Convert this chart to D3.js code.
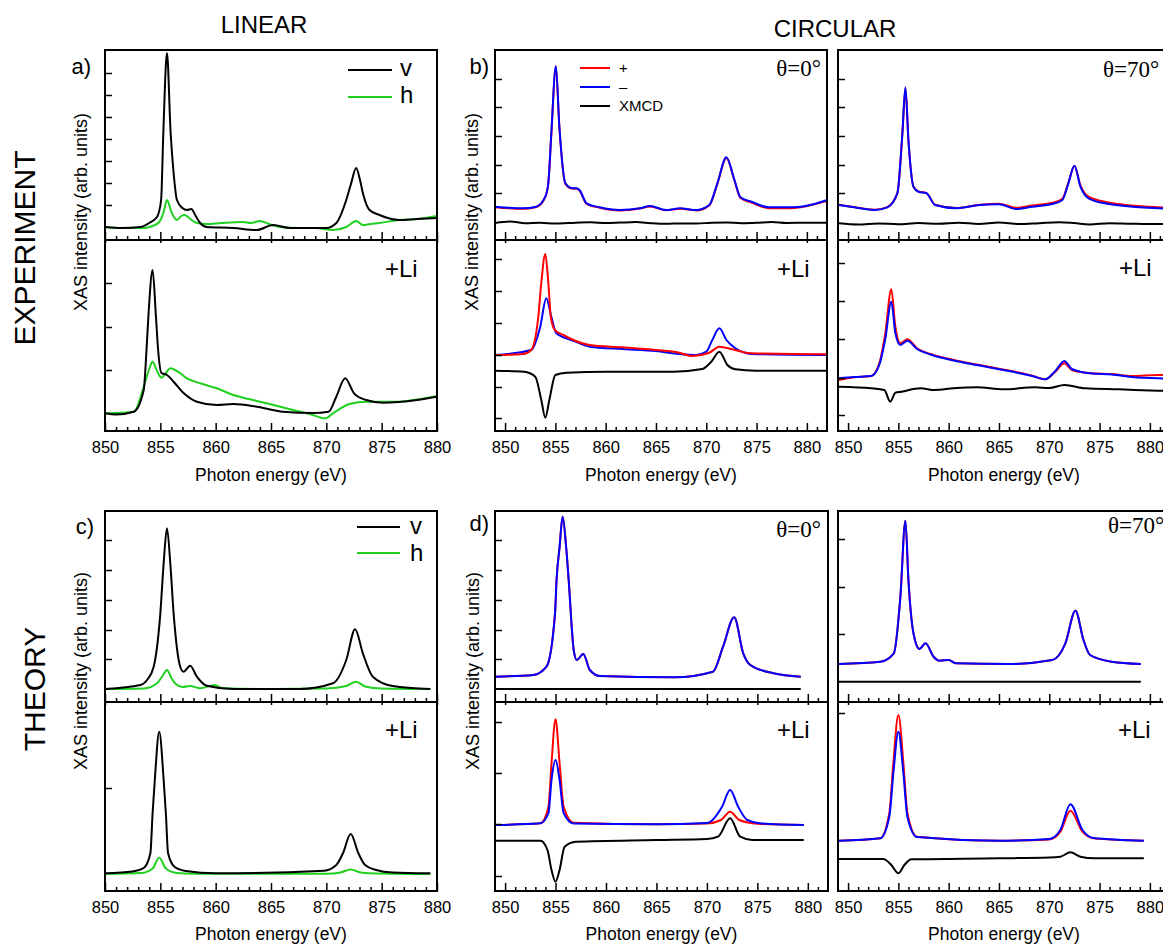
<!DOCTYPE html>
<html><head><meta charset="utf-8">
<script src="https://cdn.jsdelivr.net/npm/d3@7"></script>
<style>
body{margin:0;background:#fff}
svg{display:block}
text{font-family:"Liberation Sans",Arial,sans-serif;fill:#000}
</style>
</head><body>
<svg id="chart" width="1163" height="944"></svg>
<script>
// ---------------- DATA (photon energy eV, intensity arb. units) ----------------
const xDomainLinear = [850, 880];
const xDomainCircular = [849, 882];
const majorTicks = [850, 855, 860, 865, 870, 875, 880];

// EXPERIMENT – linear (panel a)
const expA_v = [[850,13],[851.5,12],[853.2,13],[854.0,17],[854.7,23],[855.07,40],[855.27,107],[855.6,187],[855.93,107],[856.2,67],[856.5,40],[857.0,32],[857.4,30],[857.8,31],[858.2,24],[858.6,17],[859.2,13],[861.6,12],[863.7,10],[865.2,15],[866.7,12],[870.0,12],[870.9,17],[871.8,40],[872.2,55],[872.7,72],[873.0,62],[873.3,47],[873.9,30],[874.8,25],[876.6,20],[878.2,21],[880,22]];
const expA_h = [[850,13],[851.5,12],[853.5,12],[854.3,14],[854.9,18],[855.3,28],[855.6,40],[856.0,28],[856.5,20],[856.9,24],[857.2,25],[857.7,21],[858.3,17],[859.2,16],[860.5,17],[862.4,18],[863.2,17],[864.0,19],[864.8,16],[865.8,13],[867.6,12],[869.0,12],[870.6,10],[871.8,13],[872.7,19],[873.3,15],[874.0,16],[874.8,17],[876.6,20],[878.2,21],[880,24]];
const expALi_v = [[850,17.7],[851,16.5],[852.6,19.3],[853.5,41],[853.75,81],[853.95,120],[854.3,161],[854.6,115],[854.8,81],[855.1,58],[855.6,56],[856.2,49.3],[857.1,38],[858.3,29.3],[860.1,26],[861.6,27],[863.7,24.3],[866.1,19.3],[868.8,18],[870.2,19.3],[870.9,34.3],[871.7,52.7],[872.5,37.7],[873.6,31],[875.1,28.3],[878.2,31],[880,34.3]];
const expALi_h = [[850,17.7],[852.6,19.3],[853.5,44.3],[854.0,62],[854.3,69.3],[854.7,60],[855.1,53.3],[855.5,58],[855.9,62.7],[856.5,60],[857.4,52.7],[858.6,47.7],[860.1,42.7],[861.6,36],[863.0,32],[864.6,27.7],[867,21],[868.5,17],[869.9,12.7],[870.6,17.7],[872.1,27],[873.6,29.3],[876.6,29.3],[878.5,32],[880,35]];

// EXPERIMENT – circular, theta = 0 (panel b)
const expB_minus = [[849,33.3],[851.8,31.7],[853.1,33.3],[854.0,43.3],[854.3,57],[854.6,107],[855.05,174],[855.4,113],[856.0,56.7],[856.6,52],[857.1,51.7],[857.4,50],[858.1,36.7],[859.4,32.7],[861.4,30],[863.4,31.7],[864.4,34],[866,30],[867.4,31.7],[869,30],[870.3,35],[871.1,56.7],[872.0,82.7],[872.8,60],[873.4,42.7],[874.5,38.3],[876.2,32.7],[878.5,32.7],[881.8,39.3],[882,40]];
const expB_plus = [[849,32.8],[851.8,31.2],[853.1,33],[854.0,43],[854.3,56.5],[854.6,106],[855.05,173],[855.4,112.5],[856.0,56],[856.6,51.5],[857.1,51.2],[857.4,49.5],[858.1,36.2],[859.4,32.2],[861.4,29.5],[863.4,31.4],[864.4,33.6],[866,29.7],[867.4,31.2],[869,29.6],[870.3,34.6],[871.1,56],[872.0,82],[872.8,59.5],[873.4,42],[874.5,37.5],[876.2,31.8],[878.5,31.8],[881.8,38.5],[882,39]];
const expB_xmcd = [[849,17],[850.5,18.5],[852,16.8],[853.5,17.2],[855,16.5],[857,17.3],[858.5,17.8],[860,16.9],[861.5,17.4],[863,17.9],[864.5,16.8],[866,16.2],[867.5,16.6],[869,16.4],[870.5,17.3],[872,17.6],[873.5,16.8],[875,17.2],[876.5,18.0],[878,17.0],[880,17.3],[882,17.2]];
const expBLi_plus = [[849,76],[851.8,77],[852.6,81],[853.3,114],[853.6,148],[854.0,177],[854.3,148],[854.55,114],[854.95,101],[855.8,96],[856.8,91],[858.4,86],[861.7,83.7],[865,81],[867.3,78.3],[868.6,75],[870.3,78.3],[871.3,84.3],[872.6,81.7],[874.5,77.7],[881.8,76.7],[882,77]];
const expBLi_minus = [[849,76],[852.6,81],[853.5,104.3],[854.1,132.7],[854.6,114.3],[855.1,97.7],[856.8,90.3],[858.4,84.3],[861.7,82],[865,80],[867.3,77],[869,76],[870.0,79.3],[870.6,91],[871.3,102.7],[872.0,91],[872.9,82.7],[874.5,77],[882,76]];
const expBLi_xmcd = [[849,60.3],[851.9,59.3],[853.0,54.3],[853.6,31],[854.0,13.3],[854.4,31],[855.0,56],[856.1,58.3],[860.1,59.3],[866.7,59.3],[869.6,62],[870.5,69.3],[871.3,79.3],[872.1,66],[872.9,61.7],[874.9,60.3],[882,60.3]];

// EXPERIMENT – circular, theta = 70
const expC_minus = [[849.1,35],[850.6,32.7],[852.6,30],[853.9,32.7],[854.9,46.7],[855.4,107],[855.7,152.7],[856.0,100],[856.5,53.3],[857.0,48.3],[857.8,46.7],[858.65,35],[860.8,31.7],[863.1,35],[865.0,35.7],[866.7,31],[868.3,33.3],[870.3,36],[871.3,40],[871.9,56.7],[872.5,74.3],[873.1,53.3],[873.9,41.7],[875.9,36],[880.8,31.7],[882,31]];
const expC_plus = [[849.1,35.3],[850.6,32.9],[852.6,30.2],[853.9,32.9],[854.9,46.8],[855.4,106],[855.7,151.5],[856.0,99.5],[856.5,53.5],[857.0,48.5],[857.8,46.9],[858.65,35.3],[860.8,31.9],[863.1,35.3],[865.0,36.3],[866.7,32.2],[868.3,34.5],[870.3,37.2],[871.3,41.3],[871.9,57.4],[872.5,74],[873.1,54.6],[873.9,43.3],[875.9,37.6],[880.8,32.8],[882,32.3]];
const expC_xmcd = [[849.1,16.7],[851,15.5],[853,16.5],[855,15.8],[857,16.9],[859,16.2],[861,17.2],[863,16.1],[865,17.4],[867,15.9],[869,16.8],[871,17.8],[872.5,16.9],[874,15.6],[876,16.8],[878,16.3],[880,15.9],[882,16]];
const expCLi_plus = [[849.1,51],[850.6,53.7],[852.3,55],[853.1,67.7],[853.7,97.7],[854.3,141.7],[854.7,104.3],[855.2,87.7],[855.9,91.7],[856.85,82.7],[858.2,77],[860.5,71],[863.1,66],[865.7,61],[868.3,55.3],[869.6,51.7],[870.6,59.3],[871.5,67.7],[872.25,61],[874.2,57.7],[876.2,57],[878.2,55],[880.8,56],[882,56]];
const expCLi_minus = [[849.1,52.7],[850.6,54],[852.3,55],[853.1,66],[853.7,92],[854.3,129.3],[854.7,98],[855.2,86],[855.9,90.3],[856.85,82],[858.2,76.5],[860.5,70.5],[863.1,65.5],[865.7,60.5],[868.3,55],[869.6,51.7],[870.6,60],[871.5,70],[872.25,62],[874.2,57.5],[876.2,56.5],[878.2,54],[880.8,52.7],[882,52.5]];
const expCLi_xmcd = [[849.1,44.3],[852.3,42.7],[853.6,41],[854.2,29.3],[854.7,38.3],[855.3,39.3],[857.2,42.7],[858.6,41],[860.5,42.7],[862.8,43.7],[865.4,41.7],[868.6,43.7],[870.0,43],[871.5,46],[873.6,42.7],[876.9,41.7],[880.8,40.3],[882,40]];

// THEORY – linear (panel c)
const thA_v = [[850,13],[853.2,17],[853.8,22],[854.4,35.3],[855.0,88.7],[855.3,138.7],[855.6,173.7],[855.9,138.7],[856.2,88.7],[856.8,35.3],[857.1,30.3],[857.7,36.3],[858.3,25.3],[859.2,16.3],[861.6,13],[867.6,13],[870.6,18.7],[871.8,42],[872.6,72.7],[873.3,48.7],[874.2,25.3],[876,16],[879.4,13]];
const thA_h = [[850,13],[853.5,13.5],[854.7,18.7],[855.2,26],[855.6,32],[856.0,24],[856.4,18],[857.0,15],[857.7,16],[858.6,13.7],[859.9,17],[860.6,13.7],[865,13],[870,13.5],[871.8,16],[872.7,20.3],[873.5,15.5],[875,13.5],[879.4,13]];
const thALi_v = [[850,17.7],[852.5,19.5],[853.5,23],[854.1,37.7],[854.3,77.7],[854.5,111],[854.9,159.3],[855.3,111],[855.5,77.7],[855.7,37.7],[856.3,24],[857.3,20],[860,17.7],[869.8,20.3],[870.9,26],[871.5,37.7],[872.2,57],[872.9,37.7],[873.5,26],[874.5,21],[876,18.5],[879.4,17.7]];
const thALi_h = [[850,17],[853.3,18],[854.3,22.5],[854.9,33.3],[855.5,22.5],[856.5,18],[858,17.3],[870,17.3],[871.3,18.6],[872.2,21.5],[873.1,18.6],[874.5,17.4],[879.4,17]];

// THEORY – circular, theta = 0 (panel d)
const thB_minus = [[849,25.3],[852.8,27],[854.1,35.3],[854.95,88.7],[855.1,122],[855.4,155],[855.7,185.3],[856.05,155],[856.3,122],[856.8,52],[857.1,42],[857.75,48],[858.4,32],[859.4,26],[866.8,24.7],[870.6,30.3],[871.6,55.3],[872.7,84.7],[873.6,48.7],[874.3,37],[876.6,28.7],[879.3,25.3]];
const thB_plus = thB_minus.map(d => [d[0], d[1]]);
const thB_xmcd = [[849,13],[855,13],[865,13],[872,13],[879.3,13]];
const thBLi_plus = [[849,66],[853.5,67.7],[854.3,84.3],[854.6,127.7],[855.0,171.7],[855.4,127.7],[855.8,84.3],[856.8,68.3],[865,66.7],[870,67.5],[871.4,71],[872.3,79.3],[873.2,71],[875,67.3],[879.6,66]];
const thBLi_minus = [[849,66],[853.5,67.7],[854.3,78],[854.6,111],[855.0,131],[855.4,111],[855.8,78],[856.8,67.5],[865,66.7],[870,68],[871.5,84.3],[872.3,101],[873.1,84.3],[874.0,71],[875.5,67.5],[879.6,66]];
const thBLi_xmcd = [[849,50.3],[853.5,50.3],[854.2,41],[854.6,21],[855.0,9.3],[855.4,21],[855.9,44.3],[857,49.3],[865,51],[870,52],[871.1,54.3],[872.3,72.7],[873.3,54.3],[874.5,51],[879.6,51]];

// THEORY – circular, theta = 70
const thC_minus = [[849.1,38],[853.2,40.3],[854.55,48.7],[855.2,105.3],[855.7,181.3],[856.0,122],[856.5,68.7],[857.1,53],[857.7,58.7],[858.5,45.3],[859.1,41.3],[860.0,42],[860.7,38.7],[866,38],[870.3,42],[871.6,58.7],[872.6,91.3],[873.4,62],[874.05,47],[876.2,40.3],[879.1,38]];
const thC_plus = thC_minus.map(d => [d[0], d[1]]);
const thC_xmcd = [[849.1,20.3],[855,20.3],[865,20.3],[872,20.3],[879.1,20.3]];
const thCLi_plus = [[849.1,50.3],[853.2,52.7],[854.1,77.7],[854.5,127.7],[855.0,176],[855.5,127.7],[855.9,77.7],[856.85,54.3],[865,50.3],[870,51.5],[871.1,59.3],[872.1,80.3],[873.3,59.3],[874.4,52.7],[879.4,50.3]];
const thCLi_minus = [[849.1,50.3],[853.2,52.7],[854.1,74.3],[854.5,117.7],[855.0,159.3],[855.5,117.7],[855.9,74.3],[856.85,54],[865,50.3],[870,52],[871.1,61],[872.1,86.7],[873.3,61],[874.4,53],[879.4,50.3]];
const thCLi_xmcd = [[849.1,32],[853.5,32],[854.3,26],[855.0,17.7],[855.6,26],[856.3,31.7],[865,32.7],[870,33.5],[871.1,34.3],[872.1,38.7],[873.1,34.3],[874.5,32.7],[879.4,32.7]];

// y tick values (arb. units) per sub-panel
const yt_expA = [35,57,79,101,123,145,167];
const yt_expALi = [61,104,148];
const yt_expB = [47,75,104,133,161];
const yt_expBLi = [13,44,76,108,140,172];
const yt_expC = [47,75,104,133,161];
const yt_expCLi = [16,53,92,130,168];
const yt_thA = [43,72,102,132,162];
const yt_thALi = [103];
const yt_thB = [43,72,102,132,162];
const yt_thBLi = [15,67,118,169];
const yt_thC = [68,115,163];
const yt_thCLi = [178];

// ---------------- DRAWING ----------------
const RED = "#ff0000", BLUE = "#0000ff", GREEN = "#1fd01f", BLACK = "#000000";
const svg = d3.select("#chart");
const defs = svg.append("defs");
let clipId = 0;

function subPanel(cfg) {
  const x = d3.scaleLinear().domain(cfg.xd).range([cfg.x0, cfg.x1]);
  const y = d3.scaleLinear().domain([0, cfg.yb - cfg.yt]).range([cfg.yb, cfg.yt]);
  const id = "clip" + (clipId++);
  defs.append("clipPath").attr("id", id).append("rect")
    .attr("x", cfg.x0).attr("y", cfg.yt).attr("width", cfg.x1 - cfg.x0).attr("height", cfg.yb - cfg.yt);
  const g = svg.append("g");
  const line = d3.line().x(d => x(d[0])).y(d => y(d[1])).curve(d3.curveMonotoneX);
  const lg = g.append("g").attr("clip-path", `url(#${id})`);
  cfg.series.forEach(s => {
    lg.append("path").datum(s.data).attr("d", line)
      .attr("fill", "none").attr("stroke", s.color).attr("stroke-width", 2)
      .attr("stroke-linejoin", "round");
  });
  // y ticks (inward)
  const ya = d3.axisRight(y).tickValues(cfg.yticks).tickSize(7).tickFormat("");
  const yg = g.append("g").attr("transform", `translate(${cfg.x0},0)`).call(ya);
  yg.select(".domain").remove();
  yg.selectAll("line").attr("stroke-width", 1.5);
  // x ticks (inward, at bottom of sub-panel)
  const lo = Math.ceil(cfg.xd[0] + 0.01), hi = Math.floor(cfg.xd[1] - 0.01);
  const minor = d3.range(lo, hi + 1).filter(v => !majorTicks.includes(v));
  const xa1 = d3.axisTop(x).tickValues(minor).tickSize(4).tickFormat("");
  const xa2 = d3.axisTop(x).tickValues(majorTicks).tickSize(8).tickFormat("");
  [xa1, xa2].forEach(a => {
    const xg = g.append("g").attr("transform", `translate(0,${cfg.yb})`).call(a);
    xg.select(".domain").remove();
    xg.selectAll("line").attr("stroke-width", 1.5);
  });
  return x;
}

function panel(cfg) {
  const xu = subPanel({x0: cfg.x0, x1: cfg.x1, xd: cfg.xd, yt: cfg.yt, yb: cfg.ym, series: cfg.upper, yticks: cfg.ytu});
  const xl = subPanel({x0: cfg.x0, x1: cfg.x1, xd: cfg.xd, yt: cfg.ym, yb: cfg.yb, series: cfg.lower, yticks: cfg.ytl});
  // frame + divider
  svg.append("rect").attr("x", cfg.x0).attr("y", cfg.yt).attr("width", cfg.x1 - cfg.x0).attr("height", cfg.yb - cfg.yt)
    .attr("fill", "none").attr("stroke", "#000").attr("stroke-width", 2);
  svg.append("line").attr("x1", cfg.x0).attr("x2", cfg.x1).attr("y1", cfg.ym).attr("y2", cfg.ym)
    .attr("stroke", "#000").attr("stroke-width", 2);
  // small downward tick stubs on divider
  const dv = d3.axisBottom(xu).tickValues(majorTicks).tickSize(3).tickFormat("");
  const dg = svg.append("g").attr("transform", `translate(0,${cfg.ym})`).call(dv);
  dg.select(".domain").remove();
  dg.selectAll("line").attr("stroke-width", 1.5);
  // tick labels
  const lab = d3.axisBottom(xl).tickValues(majorTicks).tickSize(0).tickPadding(0).tickFormat(d3.format("d"));
  const lg = svg.append("g").attr("transform", `translate(0,${cfg.yb})`).call(lab);
  lg.select(".domain").remove();
  lg.selectAll("text").attr("font-size", "16.5px").attr("dy", null).attr("y", cfg.tickBase - cfg.yb)
    .style("font-family", "'Liberation Sans', Arial, sans-serif").attr("fill", "#000");
  svg.append("text").attr("x", (cfg.x0 + cfg.x1) / 2).attr("y", cfg.titleBase).attr("text-anchor", "middle")
    .attr("font-size", "17.5px").text("Photon energy (eV)");
}

const S = (data, color) => ({data, color});

// Experiment row
panel({x0:105, x1:437, xd:xDomainLinear, yt:50, ym:240, yb:431, tickBase:453, titleBase:481,
  upper:[S(expA_h,GREEN), S(expA_v,BLACK)], lower:[S(expALi_h,GREEN), S(expALi_v,BLACK)], ytu:yt_expA, ytl:yt_expALi});
panel({x0:495, x1:827, xd:xDomainCircular, yt:50, ym:240, yb:431, tickBase:453, titleBase:481,
  upper:[S(expB_xmcd,BLACK), S(expB_plus,RED), S(expB_minus,BLUE)],
  lower:[S(expBLi_xmcd,BLACK), S(expBLi_minus,BLUE), S(expBLi_plus,RED)], ytu:yt_expB, ytl:yt_expBLi});
panel({x0:838, x1:1170, xd:xDomainCircular, yt:50, ym:240, yb:431, tickBase:453, titleBase:481,
  upper:[S(expC_xmcd,BLACK), S(expC_plus,RED), S(expC_minus,BLUE)],
  lower:[S(expCLi_xmcd,BLACK), S(expCLi_plus,RED), S(expCLi_minus,BLUE)], ytu:yt_expC, ytl:yt_expCLi});
// Theory row
panel({x0:105, x1:437, xd:xDomainLinear, yt:511, ym:702, yb:891, tickBase:913, titleBase:940,
  upper:[S(thA_h,GREEN), S(thA_v,BLACK)], lower:[S(thALi_h,GREEN), S(thALi_v,BLACK)], ytu:yt_thA, ytl:yt_thALi});
panel({x0:495, x1:828, xd:xDomainCircular, yt:511, ym:702, yb:891, tickBase:913, titleBase:940,
  upper:[S(thB_xmcd,BLACK), S(thB_plus,RED), S(thB_minus,BLUE)],
  lower:[S(thBLi_xmcd,BLACK), S(thBLi_plus,RED), S(thBLi_minus,BLUE)], ytu:yt_thB, ytl:yt_thBLi});
panel({x0:838, x1:1170, xd:xDomainCircular, yt:511, ym:702, yb:891, tickBase:913, titleBase:940,
  upper:[S(thC_xmcd,BLACK), S(thC_plus,RED), S(thC_minus,BLUE)],
  lower:[S(thCLi_xmcd,BLACK), S(thCLi_plus,RED), S(thCLi_minus,BLUE)], ytu:yt_thC, ytl:yt_thCLi});

// ---------------- TEXT ----------------
function txt(x, y, s, size, opts = {}) {
  const t = svg.append("text").attr("x", x).attr("y", y).attr("font-size", size + "px").text(s);
  if (opts.anchor) t.attr("text-anchor", opts.anchor);
  if (opts.serif) t.style("font-family", "'Liberation Serif','Times New Roman',serif");
  if (opts.rot) t.attr("transform", `rotate(-90,${x},${y})`);
  return t;
}
txt(264, 33, "LINEAR", 24, {anchor: "middle"});
txt(835, 37, "CIRCULAR", 24, {anchor: "middle"});
txt(35, 248, "EXPERIMENT", 30, {anchor: "middle", rot: true});
txt(45, 689, "THEORY", 30, {anchor: "middle", rot: true});
txt(87, 212, "XAS intensity (arb. units)", 18, {anchor: "middle", rot: true});
txt(478, 212, "XAS intensity (arb. units)", 18, {anchor: "middle", rot: true});
txt(87, 671, "XAS intensity (arb. units)", 18, {anchor: "middle", rot: true});
txt(479, 671, "XAS intensity (arb. units)", 18, {anchor: "middle", rot: true});
txt(91, 74, "a)", 22, {anchor: "end"});
txt(489, 74, "b)", 22, {anchor: "end"});
txt(94, 534, "c)", 22, {anchor: "end"});
txt(489, 531, "d)", 22, {anchor: "end"});
txt(821, 76, "θ=0°", 23, {anchor: "end", serif: true});
txt(1103, 77, "θ=70°", 23, {serif: true});
txt(821, 537, "θ=0°", 23, {anchor: "end", serif: true});
txt(1108, 533, "θ=70°", 23, {serif: true});
[[385,277],[777,277],[1119,276],[385,738],[777,738],[1118,738]].forEach(p => txt(p[0], p[1], "+Li", 24));

// legends
function legLine(x1, x2, y, c) {
  svg.append("line").attr("x1", x1).attr("x2", x2).attr("y1", y).attr("y2", y).attr("stroke", c).attr("stroke-width", 2);
}
legLine(348, 392, 70, BLACK); txt(400, 76, "v", 24);
legLine(348, 392, 97, GREEN); txt(400, 103, "h", 24);
legLine(357, 400, 527, BLACK); txt(410, 534, "v", 24);
legLine(357, 400, 553, GREEN); txt(410, 561, "h", 24);
legLine(580, 610, 68, RED); txt(619, 73, "+", 15);
legLine(580, 610, 87, BLUE); txt(619, 92, "–", 15);
legLine(580, 610, 106, BLACK); txt(619, 111, "XMCD", 15);
</script>
</body></html>
